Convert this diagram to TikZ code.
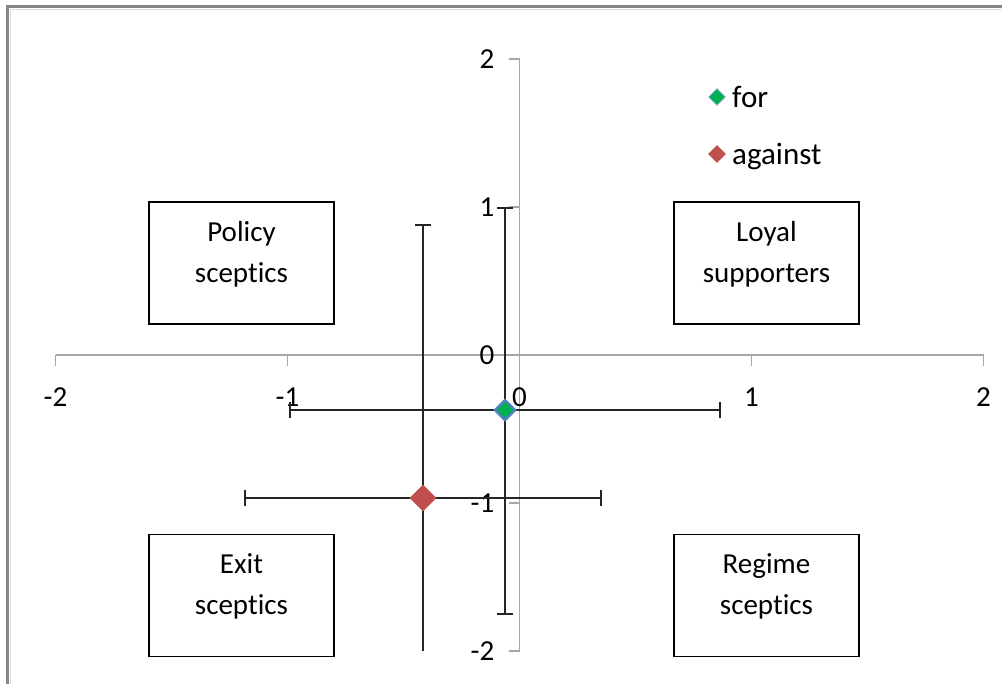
\documentclass[tikz,border=0pt]{standalone}
\usepackage{fontspec}
\setmainfont{Carlito}[Ligatures={NoCommon,NoContextual},RawFeature={-calt;-dlig}]
\usetikzlibrary{shapes.geometric}
\definecolor{axisgray}{HTML}{A6A6A6}
\definecolor{framegray}{HTML}{868686}
\definecolor{framelight}{HTML}{DADADA}
\definecolor{forgreen}{HTML}{00B050}
\definecolor{forblue}{HTML}{4F81BD}
\definecolor{againstred}{HTML}{C0504D}
\definecolor{barblack}{HTML}{262626}
\begin{document}
\begin{tikzpicture}[x=1pt,y=-1pt,
  axisline/.style={draw=axisgray,line width=1.5pt},
  ticklabel/.style={font=\fontsize{29}{34}\selectfont,inner sep=0pt,text=black},
  errbar/.style={draw=barblack,line width=1.5pt},
  quadbox/.style={draw=black,line width=1.5pt,minimum width=185pt,minimum height=122pt,inner sep=0pt},
  quadtext/.style={align=center,font=\fontsize{29}{41}\selectfont,inner sep=0pt},
  pointfor/.style={diamond,fill=forgreen,draw=forblue,line width=2.5pt,inner sep=0pt,
    minimum width=21pt,minimum height=21pt},
  pointagainst/.style={diamond,fill=againstred,draw=none,inner sep=0pt,
    minimum width=27pt,minimum height=27pt},
  legfor/.style={diamond,fill=forgreen,draw=forblue!60,line width=0.6pt,inner sep=0pt,
    minimum width=17pt,minimum height=17pt},
  legagainst/.style={diamond,fill=againstred,draw=none,inner sep=0pt,
    minimum width=18pt,minimum height=18pt},
  legtext/.style={font=\fontsize{31}{36}\selectfont,inner sep=0pt,anchor=west}
]
\useasboundingbox (0,0) rectangle (1002,684);
% frame
\draw[framegray,line width=3pt] (7,684) -- (7,7) -- (1002,7);
\draw[framelight,line width=1pt] (10,684) -- (10,10) -- (1002,10);

% quadrant boxes
\node[quadbox] (policy) at (241.5,263) {};
\node[quadtext] (policyt) at ([yshift=9pt]policy.center) {Policy\\sceptics};
\node[quadbox] (loyal) at (766.5,263) {};
\node[quadtext] (loyalt) at ([yshift=9pt]loyal.center) {Loyal\\supporters};
\node[quadbox] (exit) at (241.5,595.5) {};
\node[quadtext] (exitt) at ([yshift=9pt]exit.center) {Exit\\sceptics};
\node[quadbox] (regime) at (766.5,595.5) {};
\node[quadtext] (regimet) at ([yshift=9pt]regime.center) {Regime\\sceptics};

\begin{scope}[shift={(519.5pt,-355pt)},x=232pt,y=148pt]
  % axes
  \coordinate (xmin) at (-2,0);
  \coordinate (xmax) at (2,0);
  \coordinate (ymin) at (0,-2);
  \coordinate (ymax) at (0,2);
  \draw[axisline] (xmin) -- (xmax);
  \draw[axisline] (ymin) -- (ymax);
  \foreach \i in {-2,...,2}{
    \draw[axisline] (\i,0) -- ++(0pt,-11pt);
    \node[ticklabel] (xl\i) at ([yshift=-42pt]\i,0) {\i};
    \draw[axisline] (0,\i) -- ++(-11pt,0pt);
    \node[ticklabel,anchor=east] (yl\i) at ([xshift=-25pt]0,\i) {\i};
  }
  % error bars: for
  \coordinate (forL) at (-0.989,-0.372);
  \coordinate (forR) at (0.864,-0.372);
  \coordinate (forT) at (-0.0625,0.993);
  \coordinate (forB) at (-0.0625,-1.75);
  \draw[errbar] (forL) -- (forR);
  \draw[errbar] (forT) -- (forB);
  \draw[errbar] ([yshift=8pt]forL) -- ([yshift=-8pt]forL);
  \draw[errbar] ([yshift=8pt]forR) -- ([yshift=-8pt]forR);
  \draw[errbar] ([xshift=-8pt]forT) -- ([xshift=8pt]forT);
  \draw[errbar] ([xshift=-8pt]forB) -- ([xshift=8pt]forB);
  % error bars: against
  \coordinate (agL) at (-1.183,-0.966);
  \coordinate (agR) at (0.351,-0.966);
  \coordinate (agT) at (-0.416,0.878);
  \coordinate (agB) at (-0.416,-2);
  \draw[errbar] (agL) -- (agR);
  \draw[errbar] (agT) -- (agB);
  \draw[errbar] ([yshift=8pt]agL) -- ([yshift=-8pt]agL);
  \draw[errbar] ([yshift=8pt]agR) -- ([yshift=-8pt]agR);
  \draw[errbar] ([xshift=-8pt]agT) -- ([xshift=8pt]agT);
  % points
  \node[pointagainst] (ptagainst) at (-0.416,-0.966) {};
  \node[pointfor] (ptfor) at (-0.0625,-0.372) {};
\end{scope}

% legend
\node[legfor] (legf) at (717,97) {};
\node[legtext] (legft) at (732,97) {for};
\node[legagainst] (lega) at (717,154) {};
\node[legtext] (legat) at (732,157) {against};
\end{tikzpicture}
\end{document}
